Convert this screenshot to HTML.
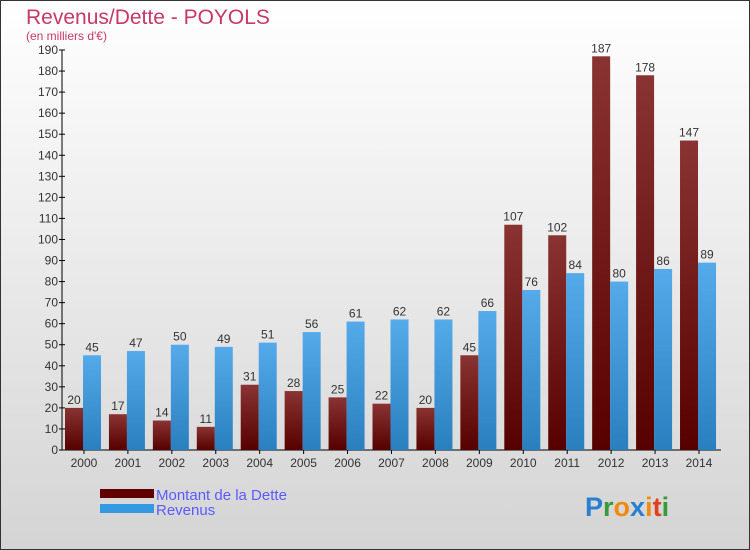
<!DOCTYPE html>
<html><head><meta charset="utf-8"><style>
body{margin:0}
#c{width:748px;height:548px;border:1px solid #333;position:relative;overflow:hidden;background:linear-gradient(#ffffff,#d4d4d4);font-family:"Liberation Sans",sans-serif}
</style></head><body>
<div id="c">
<svg id="s" width="748" height="548">
<defs>
<linearGradient id="gd" x1="0" y1="0" x2="0" y2="1"><stop offset="0" stop-color="#8a3333"/><stop offset="1" stop-color="#560000"/></linearGradient>
<linearGradient id="gr" x1="0" y1="0" x2="0" y2="1"><stop offset="0" stop-color="#55aaea"/><stop offset="1" stop-color="#2a7fbf"/></linearGradient>
</defs>
<text x="25" y="23" font-size="21" fill="#c8386a">Revenus/Dette - POYOLS</text>
<text x="25" y="39" font-size="12" fill="#c8386a">(en milliers d'€)</text>
<g id="g"></g>
<rect x="99" y="488" width="54" height="9" fill="#600000"/>
<text x="155" y="499" font-size="15" fill="#5a5aff">Montant de la Dette</text>
<rect x="99" y="503" width="54" height="9" fill="#3399e0"/>
<text x="155" y="514" font-size="15" fill="#5a5aff">Revenus</text>
<text x="584" y="515" font-size="27" font-weight="bold"><tspan fill="#2a7fd0">P</tspan><tspan fill="#3a9a3a">r</tspan><tspan fill="#f08a10">o</tspan><tspan fill="#2a7fd0">x</tspan><tspan fill="#f08a10">i</tspan><tspan fill="#e04020">t</tspan><tspan fill="#3a9a3a">i</tspan></text>
</svg>
</div>
<script>
const years=["2000","2001","2002","2003","2004","2005","2006","2007","2008","2009","2010","2011","2012","2013","2014"];
const dette=[20,17,14,11,31,28,25,22,20,45,107,102,187,178,147];
const revenus=[45,47,50,49,51,56,61,62,62,66,76,84,80,86,89];
const ticks=[0,10,20,30,40,50,60,70,80,90,100,110,120,130,140,150,160,170,180,190];
const NS="http://www.w3.org/2000/svg",g=document.getElementById('g');
const x0=61,step=43.93,base=449,ppu=400/190;
const y=v=>base-v*ppu;
function mk(t,a){const e=document.createElementNS(NS,t);for(const k in a)e.setAttribute(k,a[k]);g.appendChild(e);return e;}
let ax=mk('line',{x1:x0,y1:y(190),x2:x0,y2:base,stroke:'#000'});


let bx=mk('line',{x1:x0,y1:base,x2:x0+step*15,y2:base,stroke:'#000'});


ticks.forEach(t=>{
 let l=mk('line',{x1:x0-3,y1:y(t),x2:x0+3,y2:y(t),stroke:'#000'});
 
 
 let tx=mk('text',{x:x0-4,y:y(t)+4,'font-size':12,'text-anchor':'end',fill:'#333'});tx.textContent=t;
 
 
});
years.forEach((yr,i)=>{
 const gx=x0+step*i;
 let tk=mk('line',{x1:gx+step/2,y1:base,x2:gx+step/2,y2:base+4,stroke:'#000'});
 
 
 let t=mk('text',{x:gx+step/2,y:base+17,'font-size':12,'text-anchor':'middle',fill:'#333'});t.textContent=yr;
 
 
 let b1=mk('rect',{x:gx+3,y:y(dette[i]),width:18,height:dette[i]*ppu,fill:'url(#gd)'});
 
 
 let b2=mk('rect',{x:gx+21,y:y(revenus[i]),width:18,height:revenus[i]*ppu,fill:'url(#gr)'});
 
 
 let l1=mk('text',{x:gx+12,y:y(dette[i])-4,'font-size':12,'text-anchor':'middle',fill:'#333'});l1.textContent=dette[i];
 
 
 let l2=mk('text',{x:gx+30,y:y(revenus[i])-4,'font-size':12,'text-anchor':'middle',fill:'#333'});l2.textContent=revenus[i];
 
 
});
</script>
</body></html>
